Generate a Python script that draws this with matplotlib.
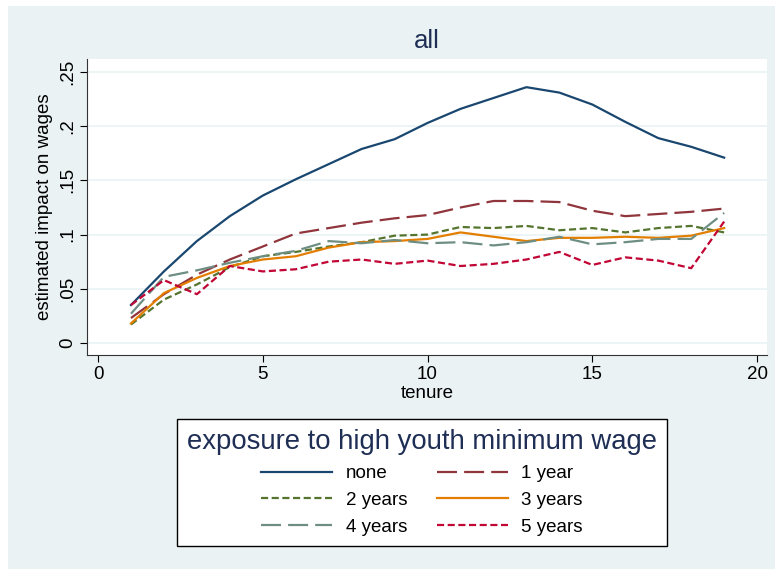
import matplotlib
matplotlib.use("Agg")
import matplotlib.pyplot as plt
from matplotlib.patches import Rectangle

plt.rcParams["font.family"] = ["Liberation Sans", "DejaVu Sans"]

# tenure 1..19
tenure = list(range(1, 20))

# estimated impact on wages by exposure to high youth minimum wage
none = [0.035, 0.066, 0.094, 0.117, 0.136, 0.151, 0.165, 0.179, 0.188, 0.203,
        0.216, 0.226, 0.236, 0.231, 0.220, 0.204, 0.189, 0.181, 0.171]
one_year = [0.023, 0.045, 0.063, 0.077, 0.089, 0.101, 0.106, 0.111, 0.115, 0.118,
            0.125, 0.131, 0.131, 0.130, 0.122, 0.117, 0.119, 0.121, 0.124]
two_years = [0.017, 0.040, 0.054, 0.070, 0.080, 0.084, 0.089, 0.093, 0.099, 0.100,
             0.107, 0.106, 0.108, 0.104, 0.106, 0.102, 0.106, 0.108, 0.102]
three_years = [0.018, 0.046, 0.060, 0.071, 0.077, 0.080, 0.088, 0.093, 0.094, 0.096,
               0.102, 0.098, 0.094, 0.097, 0.097, 0.098, 0.097, 0.099, 0.106]
four_years = [0.027, 0.061, 0.067, 0.074, 0.080, 0.085, 0.094, 0.092, 0.095, 0.092,
              0.093, 0.090, 0.093, 0.098, 0.091, 0.093, 0.096, 0.096, 0.120]
five_years = [0.035, 0.058, 0.045, 0.071, 0.066, 0.068, 0.075, 0.077, 0.073, 0.076,
              0.071, 0.073, 0.077, 0.084, 0.072, 0.079, 0.076, 0.069, 0.112]

series = [
    ("none", none, "#1A476F", "-"),
    ("1 year", one_year, "#90353B", (0, (9, 3.2))),
    ("2 years", two_years, "#55752F", (0, (3.2, 1.6))),
    ("3 years", three_years, "#E37E00", "-"),
    ("4 years", four_years, "#6E8E84", (0, (9, 3.2))),
    ("5 years", five_years, "#C10534", (0, (3.2, 1.6))),
]

y_ticks = [0, 0.05, 0.1, 0.15, 0.2, 0.25]
y_labels = ["0", ".05", ".1", ".15", ".2", ".25"]
x_ticks = [0, 5, 10, 15, 20]

BG = "#EAF2F3"
TITLE_C = "#1E2E55"
FS = 13.5

fig = plt.figure(figsize=(7.75, 5.69), dpi=100)
fig.patch.set_facecolor("white")
fig.patches.append(Rectangle((8 / 775, 0), 1, 1 - 6 / 569, transform=fig.transFigure,
                             facecolor=BG, edgecolor="none", zorder=-10))

ax = fig.add_axes([87 / 775, 1 - 355 / 569, 680 / 775, 296 / 569])
ax.set_facecolor("white")

lines = {}
for label, vals, color, ls in series:
    lines[label], = ax.plot(tenure, vals, color=color, linestyle=ls, linewidth=1.6,
                            label=label)

ax.set_xlim(-0.334, 20.30)
ax.set_ylim(-0.0111, 0.262)
ax.set_yticks(y_ticks)
ax.set_yticklabels(y_labels, rotation=90, va="center")
ax.set_xticks(x_ticks)
ax.tick_params(axis="both", labelsize=FS, length=5, width=0.8, color="black",
               labelcolor="black", pad=3)
ax.yaxis.grid(True, color=BG, linewidth=1.2)
ax.set_axisbelow(True)
for s in ["top", "right"]:
    ax.spines[s].set_visible(False)
for s in ["left", "bottom"]:
    ax.spines[s].set_color("#333333")
    ax.spines[s].set_linewidth(0.8)

ax.set_xlabel("tenure", fontsize=FS, labelpad=1)
ax.set_ylabel("estimated impact on wages", fontsize=FS, labelpad=4)
fig.text(427 / 775, 1 - 41 / 569, "all", fontsize=18.5, color=TITLE_C,
         ha="center", va="center")

# legend is filled column by column, so order it to read row-wise
order = ["none", "2 years", "4 years", "1 year", "3 years", "5 years"]
leg = fig.legend([lines[k] for k in order], order, loc="center",
                 bbox_to_anchor=(422 / 775, 1 - 482.5 / 569),
                 ncol=2, fontsize=FS, title="exposure to high youth minimum wage",
                 title_fontsize=19.8, handlelength=3.8, columnspacing=1.6,
                 handletextpad=0.7, labelspacing=0.52, borderpad=0.55,
                 fancybox=False, framealpha=1, edgecolor="black")
leg.get_frame().set_linewidth(1.0)
leg.get_title().set_color(TITLE_C)

fig.savefig("out.png", dpi=100, facecolor=fig.get_facecolor())
